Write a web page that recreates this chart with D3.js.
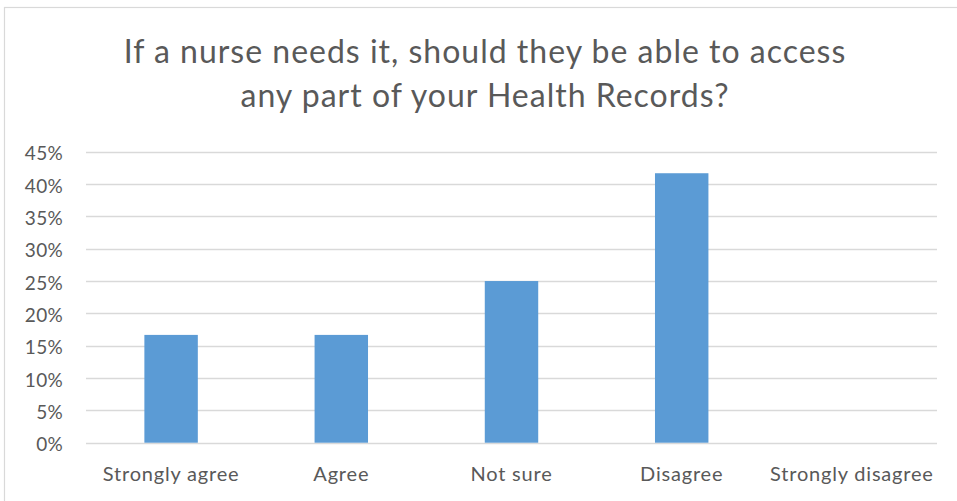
<!DOCTYPE html>
<html>
<head>
<meta charset="utf-8">
<script src="https://cdn.jsdelivr.net/npm/d3@7"></script>
<style>
  html, body { margin: 0; padding: 0; background: #fff; }
  svg { display: block; }
</style>
</head>
<body>
<svg id="chart" width="957" height="501"></svg>
<script>
// Survey responses (share of respondents)
const categories = ["Strongly agree", "Agree", "Not sure", "Disagree", "Strongly disagree"];
const shares = [0.1667, 0.1667, 0.25, 0.4167, 0];
const yTicks = [0, 0.05, 0.10, 0.15, 0.20, 0.25, 0.30, 0.35, 0.40, 0.45];
const titleLines = ["If a nurse needs it, should they be able to access", "any part of your Health Records?"];

const W = 957, H = 501;
const plot = { left: 86, right: 937, top: 151.7, bottom: 442.7 };
const font = "Lato, 'Open Sans', sans-serif";
const textColor = "#595959";

const svg = d3.select("#chart");

svg.append("rect").attr("width", W).attr("height", H).attr("fill", "#fff");
// chart frame
svg.append("rect")
  .attr("x", 4.5).attr("y", 7.5)
  .attr("width", W + 10).attr("height", H + 10)
  .attr("fill", "none").attr("stroke", "#d9d9d9").attr("stroke-width", 1.2);

// title
const title = svg.append("text")
  .attr("text-anchor", "middle")
  .attr("font-family", font)
  .attr("font-size", 32)
  .attr("letter-spacing", 1)
  .attr("fill", textColor);
title.selectAll("tspan").data(titleLines).join("tspan")
  .attr("x", 485).attr("y", (d, i) => 62.5 + i * 44.5)
  .text(d => d);

const x = d3.scaleBand().domain(categories).range([plot.left, plot.right]).paddingInner(0.686).paddingOuter(0.343);
const y = d3.scaleLinear().domain([0, 0.45]).range([plot.bottom, plot.top]);

// gridlines
svg.append("g").selectAll("line").data(yTicks).join("line")
  .attr("x1", plot.left).attr("x2", plot.right)
  .attr("y1", d => Math.round(y(d)) + 0.5).attr("y2", d => Math.round(y(d)) + 0.5)
  .attr("stroke", "#d9d9d9").attr("stroke-width", 1.3);

// y axis labels
const yAxis = svg.append("g")
  .attr("transform", `translate(${plot.left - 23},1.5)`)
  .call(d3.axisLeft(y).tickValues(yTicks).tickFormat(d3.format(".0%")).tickSize(0).tickPadding(0));
yAxis.select(".domain").remove();
yAxis.selectAll("text")
  .attr("font-family", font).attr("font-size", 19).attr("fill", textColor)
  .attr("letter-spacing", 0.3)
  .attr("dy", "0.35em");

// bars
svg.append("g").selectAll("rect").data(categories).join("rect")
  .attr("x", d => x(d))
  .attr("width", x.bandwidth())
  .attr("y", (d, i) => y(shares[i]))
  .attr("height", (d, i) => y(0) - y(shares[i]))
  .attr("fill", "#5b9bd5");

// x axis labels
const xc = d3.scaleBand().domain(categories).range([plot.left, plot.right]);
const xAxis = svg.append("g")
  .attr("transform", `translate(0,481)`)
  .call(d3.axisBottom(xc).tickSize(0).tickPadding(0));
xAxis.select(".domain").remove();
xAxis.selectAll("text")
  .attr("font-family", font).attr("font-size", 20).attr("fill", textColor)
  .attr("letter-spacing", 0.8)
  .attr("dy", 0);
</script>
</body>
</html>
